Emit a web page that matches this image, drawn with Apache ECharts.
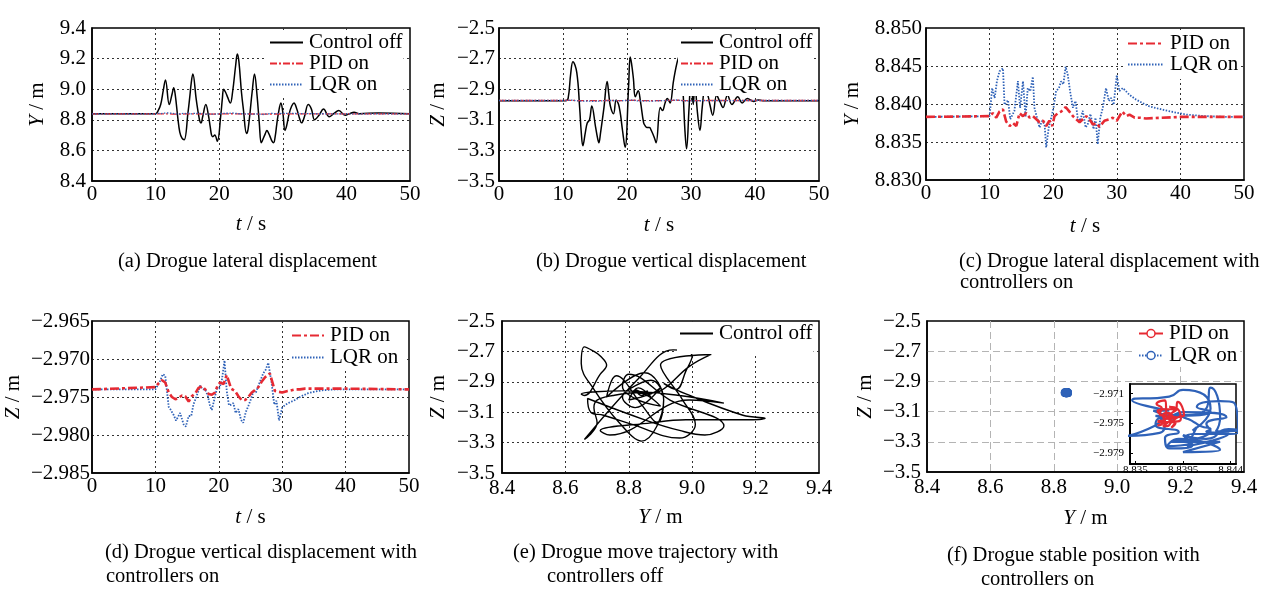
<!DOCTYPE html>
<html>
<head>
<meta charset="utf-8">
<script src="https://cdn.jsdelivr.net/npm/echarts@6/dist/echarts.min.js"></script>
<style>
  html, body { margin: 0; padding: 0; background: #fff; }
  #chart { width: 1269px; height: 592px; }
</style>
</head>
<body>
<div id="chart"></div>
<script>
var chart = echarts.init(document.getElementById('chart'));

var offT = [0, 10, 10.4, 10.8, 11.2, 11.55, 12.15, 12.6, 12.85, 13.1, 13.5, 13.8, 14.15, 14.5, 15.1, 15.4, 15.6, 15.85, 16.4, 16.9, 17.15,
  17.4, 17.9, 18.3, 18.6, 18.8, 19.0, 19.3, 19.7, 20.25, 20.5, 20.7, 21.0, 21.3, 21.75, 22.1, 22.6, 22.85, 23.1, 23.5, 23.8,
  24.3, 24.55, 25.2, 25.55, 25.95, 26.3, 26.6, 26.75, 27.25, 27.5, 27.8, 28.0, 28.3, 28.55, 28.8, 29.05, 29.3, 29.7, 30.0, 30.35,
  30.6, 31.0, 31.4, 31.75, 32.2, 32.7, 32.95, 33.4, 34.0, 34.5, 35.0, 35.7, 36.4, 37.3, 38.0, 38.8, 39.8, 40.5, 41.2, 42, 45, 50];
var offY = [8.84, 8.84, 8.86, 8.90, 8.99, 9.06, 8.90, 8.97, 9.01, 8.96, 8.81, 8.72, 8.68, 8.67, 8.85, 8.96, 9.04, 9.10, 8.93, 8.80, 8.78,
  8.82, 8.90, 8.83, 8.75, 8.70, 8.69, 8.70, 8.66, 8.83, 8.94, 9.00, 8.98, 8.95, 8.91, 8.98, 9.16, 9.23, 9.18, 8.98, 8.87,
  8.71, 8.74, 8.99, 9.10, 8.96, 8.78, 8.65, 8.66, 8.71, 8.73, 8.71, 8.69, 8.66, 8.65, 8.69, 8.77, 8.84, 8.91, 8.85, 8.73,
  8.76, 8.84, 8.89, 8.91, 8.87, 8.80, 8.78, 8.82, 8.90, 8.87, 8.80, 8.83, 8.87, 8.82, 8.84, 8.86, 8.83, 8.84, 8.85, 8.84, 8.845, 8.84];
var offZ = [-2.975, -2.975, -2.975, -2.96, -2.80, -2.72, -2.79, -3.02, -3.18, -3.27, -3.18, -3.12, -3.10, -3.01, -3.15, -3.22, -3.25, -3.19, -3.02, -2.85, -2.93,
  -3.01, -3.06, -2.97, -2.99, -3.02, -3.07, -3.17, -3.28, -2.88, -2.69, -2.73, -2.83, -2.95, -2.91, -2.98, -3.12, -3.14, -3.15, -3.15, -3.17,
  -3.22, -3.25, -3.02, -3.04, -2.99, -2.96, -2.98, -2.99, -2.85, -2.79, -2.73, -2.70, -2.67, -2.78, -2.95, -3.17, -3.29, -3.02, -2.84, -3.00,
  -2.86, -3.05, -3.17, -3.02, -2.89, -2.95, -3.00, -3.07, -2.94, -2.98, -3.02, -2.94, -3.00, -2.95, -2.99, -2.96, -2.98, -2.97, -2.975, -2.975, -2.975, -2.975];

// PID on (panels c/d)
var pidT = [0, 10, 10.5, 11.05, 11.55, 12.1, 12.6, 13.15, 13.65, 14.2, 14.7, 15.25, 15.75, 16.3, 16.8, 17.35, 17.85, 18.4, 18.9, 19.4,
  19.85, 20.2, 20.75, 21.25, 21.95, 22.55, 23.1, 23.6, 24.15, 24.65, 25.2, 25.7, 26.25, 26.75, 27.3, 28.05, 28.85, 29.35, 30.0, 30.85,
  31.5, 32.0, 32.8, 33.6, 34.6, 40, 50];
var pidY = [8.8383, 8.8384, 8.8388, 8.8382, 8.8390, 8.8393, 8.8377, 8.8371, 8.8375, 8.8371, 8.8388, 8.8384, 8.8388, 8.8382, 8.8384, 8.8380, 8.8376, 8.8378, 8.8371, 8.8378,
  8.8371, 8.8384, 8.8388, 8.8390, 8.8396, 8.8390, 8.8384, 8.8380, 8.8376, 8.8380, 8.8384, 8.8380, 8.8373, 8.8375, 8.8370, 8.8378, 8.8380, 8.8382, 8.8378, 8.8390,
  8.8384, 8.8386, 8.8382, 8.8382, 8.8381, 8.8383, 8.8383];
var pidZ = [-2.9740, -2.9737, -2.9732, -2.9728, -2.9731, -2.9744, -2.9750, -2.9753, -2.9751, -2.9748, -2.9749, -2.9756, -2.9749, -2.9745, -2.9738, -2.9736, -2.9740, -2.9746, -2.9747, -2.9744,
  -2.9734, -2.9731, -2.9733, -2.9721, -2.9739, -2.9742, -2.9749, -2.9754, -2.9754, -2.9750, -2.9744, -2.9741, -2.9737, -2.9730, -2.9724, -2.9719, -2.9742, -2.9743, -2.9744, -2.9742,
  -2.9741, -2.9740, -2.9740, -2.9739, -2.9739, -2.9739, -2.9740];

// LQR on (panels c/d)
var lqrT = [0, 10, 10.4, 10.8, 11.15, 11.55, 12.1, 12.35, 12.9, 13.25, 13.9, 14.45, 14.8, 15.25, 15.65, 16.0, 16.4, 16.8, 17.05, 17.45,
  17.85, 18.25, 18.65, 18.9, 19.3, 19.7, 20.05, 20.45, 20.9, 21.25, 21.6, 21.95, 22.3, 22.65, 23.1, 23.5, 23.85, 24.25, 24.65, 25.1,
  25.45, 25.85, 26.35, 26.65, 27.0, 27.4, 27.8, 28.3, 28.75, 29.1, 29.5, 30.0, 30.4, 30.95, 32.0, 33.0, 34.1, 35.1, 36.5, 38.5,
  41, 44, 47, 50];
var lqrY = [8.8383, 8.8384, 8.8421, 8.8408, 8.8430, 8.8443, 8.8447, 8.8399, 8.8405, 8.8380, 8.8391, 8.8430, 8.8395, 8.8430, 8.8383, 8.8421, 8.8417, 8.8436, 8.8395, 8.8382,
  8.8369, 8.8378, 8.8373, 8.8343, 8.8369, 8.8382, 8.8395, 8.8417, 8.8421, 8.8430, 8.8426, 8.8449, 8.8438, 8.8417, 8.8395, 8.8404, 8.8382, 8.8378, 8.8391, 8.8369,
  8.8374, 8.8387, 8.8367, 8.8382, 8.8347, 8.8382, 8.8395, 8.8421, 8.8404, 8.8408, 8.8399, 8.8438, 8.8417, 8.8421, 8.8412, 8.8406, 8.8401, 8.8397, 8.8394, 8.8390,
  8.8386, 8.8384, 8.8383, 8.8383];
var lqrZ = [-2.9740, -2.9740, -2.9734, -2.9728, -2.9720, -2.9722, -2.9763, -2.9766, -2.9774, -2.9781, -2.9771, -2.9786, -2.9789, -2.9775, -2.9775, -2.9760, -2.9751, -2.9742, -2.9735, -2.9740,
  -2.9740, -2.9748, -2.9763, -2.9767, -2.9753, -2.9739, -2.9739, -2.9730, -2.9702, -2.9742, -2.9761, -2.9760, -2.9758, -2.9771, -2.9766, -2.9780, -2.9784, -2.9770, -2.9762, -2.9752,
  -2.9743, -2.9744, -2.9733, -2.9733, -2.9719, -2.9714, -2.9705, -2.9730, -2.9760, -2.9755, -2.9781, -2.9764, -2.9761, -2.9758, -2.9754, -2.9749, -2.9745, -2.9743, -2.9741, -2.9740,
  -2.9740, -2.9740, -2.9740, -2.9740];

var insetYTicks = [8.835, 8.8395, 8.844];
var insetZTicks = [-2.971, -2.975, -2.979];

var captions = [
  ['(a) Drogue lateral displacement', 118, 251],
  ['(b) Drogue vertical displacement', 536, 251],
  ['(c) Drogue lateral displacement with', 959, 251],
  ['controllers on', 960, 272],
  ['(d) Drogue vertical displacement with', 105, 542],
  ['controllers on', 106, 566],
  ['(e) Drogue move trajectory with', 513, 542],
  ['controllers off', 547, 566],
  ['(f) Drogue stable position with', 947, 545],
  ['controllers on', 981, 569]
];

var FONT = '"Liberation Serif", "DejaVu Serif", serif';
var RED = '#e62a33';
var BLUE = '#2f62b8';
var LABEL = { fontFamily: FONT, fontSize: 21, color: '#000' };

function zip(a, b) {
  var out = [];
  for (var i = 0; i < a.length; i++) out.push([a[i], b[i]]);
  return out;
}

function fmt(d) {
  return function (v) {
    var s = Math.abs(v).toFixed(d);
    return (v < -1e-9 ? '\u2212' : '') + s;
  };
}

var dotted = { color: '#333', type: [2, 3], width: 1 };
var dashedGray = { color: '#b4b4b4', type: [7, 4], width: 1 };

function axis(dim, gi, min, max, interval, digits, name, gap, margin, split) {
  return {
    type: 'value', gridIndex: gi, min: min, max: max, interval: interval,
    position: dim === 'x' ? 'bottom' : 'left',
    name: name, nameLocation: 'middle', nameGap: gap,
    nameTextStyle: Object.assign({}, LABEL, { rich: { i: Object.assign({}, LABEL, { fontStyle: 'italic' }) } }),
    axisLine: { show: true, onZero: false, lineStyle: { color: '#000', width: 1.5 } },
    axisTick: { show: false },
    axisLabel: Object.assign({}, LABEL, { margin: margin, formatter: fmt(digits) }),
    splitLine: { show: true, showMinLine: false, showMaxLine: false, lineStyle: split }
  };
}

function legend(names, left, top, pad, itemWidth, gap, lh, hideSymbol) {
  var l = {
    data: names, orient: 'vertical', left: left, top: top, padding: pad,
    itemWidth: itemWidth, itemHeight: 10, itemGap: gap,
    backgroundColor: '#fff', selectedMode: false,
    formatter: function (n) { return n.split('|')[0]; },
    textStyle: Object.assign({}, LABEL, { lineHeight: lh, padding: [0, 0, 0, 1] })
  };
  if (hideSymbol) l.itemStyle = { opacity: 0 };
  return l;
}

function line(name, gi, data, color, width, type, extra) {
  return Object.assign({
    name: name, type: 'line', xAxisIndex: gi, yAxisIndex: gi, data: data,
    symbol: 'none', animation: false,
    lineStyle: { color: color, width: width, type: type },
    itemStyle: { color: color }
  }, extra || {});
}

var pidDash = [7, 2, 2, 2];
var pidDashThick = [9, 3, 3, 3];
var lqrDot = [1.5, 1.5];

var offYZ = zip(offY, offZ);
var pidYZ = zip(pidY, pidZ);
var lqrYZ = zip(lqrY, lqrZ);

var option = {
  backgroundColor: '#fff',
  animation: false,
  grid: [
    { left: 92, top: 28, width: 318, height: 153 },
    { left: 499, top: 28, width: 320, height: 153 },
    { left: 926, top: 28, width: 318, height: 152 },
    { left: 92, top: 321, width: 317, height: 152 },
    { left: 502, top: 321, width: 317, height: 152 },
    { left: 927, top: 321, width: 317, height: 151 },
    { left: 1130, top: 384, width: 106, height: 80, backgroundColor: '#fff', z: 10 }
  ].map(function (g) {
    return Object.assign({ show: true, borderColor: '#000', borderWidth: 1.5, containLabel: false }, g);
  }),
  xAxis: [
    axis('x', 0, 0, 50, 10, 0, '{i|t} / s', 33, 3, dotted),
    axis('x', 1, 0, 50, 10, 0, '{i|t} / s', 34, 3, dotted),
    axis('x', 2, 0, 50, 10, 0, '{i|t} / s', 36, 3, dotted),
    axis('x', 3, 0, 50, 10, 0, '{i|t} / s', 34, 3, dotted),
    axis('x', 4, 8.4, 9.4, 0.2, 1, '{i|Y} / m', 34, 5, dotted),
    axis('x', 5, 8.4, 9.4, 0.2, 1, '{i|Y} / m', 36, 5, dashedGray),
    {
      type: 'value', gridIndex: 6, min: 8.8345, max: 8.8445, z: 11,
      axisLine: { show: true, onZero: false, lineStyle: { color: '#000', width: 2 } },
      axisTick: { show: true, inside: true, length: 3, customValues: insetYTicks, lineStyle: { color: '#000' } },
      axisLabel: { fontFamily: FONT, fontSize: 11, color: '#000', margin: 1, customValues: insetYTicks,
        formatter: function (v) { return String(v); } },
      splitLine: { show: false }
    }
  ],
  yAxis: [
    axis('y', 0, 8.4, 9.4, 0.2, 1, '{i|Y} / m', 44, 6, dotted),
    axis('y', 1, -3.5, -2.5, 0.2, 1, '{i|Z} / m', 50, 4, dotted),
    axis('y', 2, 8.83, 8.85, 0.005, 3, '{i|Y} / m', 63, 4, dotted),
    axis('y', 3, -2.985, -2.965, 0.005, 3, '{i|Z} / m', 68, 2, dotted),
    axis('y', 4, -3.5, -2.5, 0.2, 1, '{i|Z} / m', 53, 7, dotted),
    axis('y', 5, -3.5, -2.5, 0.2, 1, '{i|Z} / m', 51, 6, dashedGray),
    {
      type: 'value', gridIndex: 6, min: -2.9805, max: -2.9697, z: 11,
      axisLine: { show: true, onZero: false, lineStyle: { color: '#000', width: 2 } },
      axisTick: { show: true, inside: true, length: 3, customValues: insetZTicks, lineStyle: { color: '#000' } },
      axisLabel: { fontFamily: FONT, fontSize: 11, color: '#000', margin: 6, customValues: insetZTicks,
        formatter: fmt(3) },
      splitLine: { show: false }
    }
  ],
  legend: [
    legend(['Control off|a', 'PID on|a', 'LQR on|a'], 266, 30, [2, 1, 0, 3], 33, 0, 18.5, true),
    legend(['Control off|b', 'PID on|b', 'LQR on|b'], 678, 30, [2, 1, 1, 2], 32, 0, 18.5, true),
    legend(['PID on|c', 'LQR on|c'], 1125, 30, [3, 2, 4, 2], 36, 0, 19, true),
    legend(['PID on|d', 'LQR on|d'], 290, 322, [3, 6, 2, 1], 32, 1, 19, true),
    legend(['Control off|e'], 677, 322, [1, 1, 10, 2], 33, 0, 19, true),
    legend([
      { name: 'PID on|f', itemStyle: { color: '#fff', borderColor: RED, borderWidth: 1.5 } },
      { name: 'LQR on|f', itemStyle: { color: '#fff', borderColor: BLUE, borderWidth: 1.5 } }
    ], 1133, 322, [1, 3, 1, 5], 24, 1, 19, false)
  ],
  series: [
    // (a)
    line('Control off|a', 0, zip(offT, offY), '#000', 1.5, 'solid', { smooth: 0.4 }),
    line('PID on|a', 0, zip(pidT, pidY), RED, 1.3, pidDash),
    line('LQR on|a', 0, zip(lqrT, lqrY), BLUE, 1.3, lqrDot),
    // (b)
    line('Control off|b', 1, zip(offT, offZ), '#000', 1.5, 'solid', { smooth: 0.4 }),
    line('PID on|b', 1, zip(pidT, pidZ), RED, 1.3, pidDash),
    line('LQR on|b', 1, zip(lqrT, lqrZ), BLUE, 1.3, lqrDot),
    // (c)
    line('LQR on|c', 2, zip(lqrT, lqrY), BLUE, 1.8, lqrDot),
    line('PID on|c', 2, zip(pidT, pidY), RED, 2.6, pidDashThick),
    // (d)
    line('LQR on|d', 3, zip(lqrT, lqrZ), BLUE, 1.8, lqrDot),
    line('PID on|d', 3, zip(pidT, pidZ), RED, 2.6, pidDashThick),
    // (e)
    line('Control off|e', 4, offYZ, '#000', 1.4, 'solid', { smooth: 0.4 }),
    // (f) main plot, markers pile into one spot
    line('PID on|f', 5, pidYZ, RED, 1.5, 'solid', { symbol: 'circle', symbolSize: 7, showSymbol: true }),
    line('LQR on|f', 5, lqrYZ, BLUE, 1.5, lqrDot, { symbol: 'circle', symbolSize: 8, showSymbol: true }),
    // (f) inset
    line('LQR inset', 6, lqrYZ, BLUE, 2.2, 'solid', { z: 12, smooth: 0.6 }),
    line('PID inset', 6, pidYZ, RED, 2.2, 'solid', { z: 13, smooth: 0.6 })
  ],
  graphic: captions.map(function (c) {
    return {
      type: 'text', left: c[1], top: c[2],
      style: { text: c[0], font: '20.5px ' + FONT, fill: '#000' }
    };
  })
};

chart.setOption(option);
window.onresize = chart.resize;
</script>
</body>
</html>
